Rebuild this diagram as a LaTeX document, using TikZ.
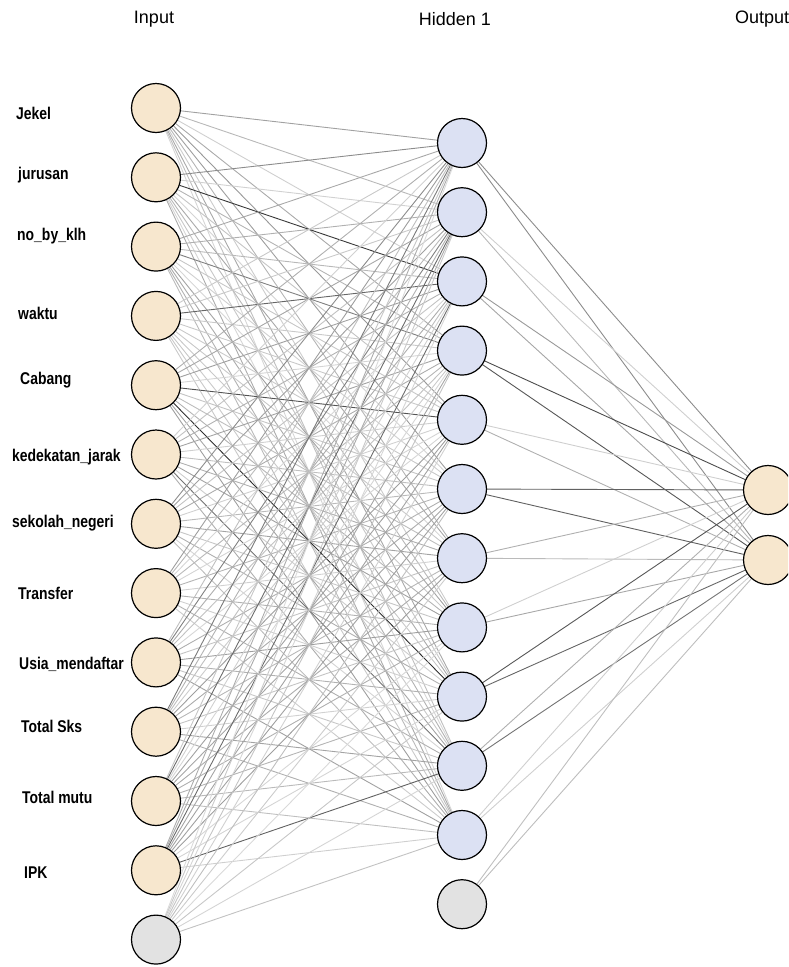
\documentclass[tikz,border=0pt]{standalone}
\usepackage{fontspec}
\setmainfont{Liberation Sans}
\newfontfamily\labfont[FakeStretch=0.82]{Liberation Sans}
\usetikzlibrary{backgrounds}
\definecolor{infill}{RGB}{247,231,206}
\definecolor{hidfill}{RGB}{220,225,243}
\definecolor{biasfill}{RGB}{226,226,226}
\newcommand\dkIH[3]{\expandafter\gdef\csname ih#1-#2\endcsname{#3}}
\newcommand\dkHO[3]{\expandafter\gdef\csname ho#1-#2\endcsname{#3}}
\dkIH{2}{3}{78}\dkIH{5}{5}{68}\dkIH{5}{9}{82}\dkIH{4}{3}{60}\dkIH{12}{10}{62}
\dkIH{11}{2}{58}\dkIH{12}{3}{58}\dkIH{10}{1}{52}\dkIH{2}{1}{45}\dkIH{1}{5}{40}
\dkIH{3}{4}{50}\dkIH{6}{10}{55}\dkIH{9}{2}{50}\dkIH{7}{1}{45}
\dkHO{4}{1}{70}\dkHO{4}{2}{66}\dkHO{6}{1}{62}\dkHO{6}{2}{62}\dkHO{9}{1}{66}
\dkHO{9}{2}{60}\dkHO{10}{2}{55}\dkHO{1}{1}{45}\dkHO{1}{2}{45}\dkHO{3}{1}{40}
\begin{document}
\begin{tikzpicture}[x=1pt,y=-1pt,
  neuron/.style={circle,draw=black,line width=1.2pt,minimum size=49pt,inner sep=0pt},
  inneuron/.style={neuron,fill=infill},
  hidneuron/.style={neuron,fill=hidfill},
  biasneuron/.style={neuron,fill=biasfill},
  lab/.style={anchor=west,font=\labfont\bfseries\fontsize{17}{17}\selectfont,inner sep=0pt},
  ttl/.style={font=\fontsize{18}{18}\selectfont,inner sep=0pt},
  wire/.style={line width=0.9pt}]
\useasboundingbox (0,0) rectangle (788,967);
\clip (0,0) rectangle (788,967);
% titles
\node[ttl] (tin) at (154,19) {Input};
\node[ttl] (thid) at (455,19) {Hidden 1};
\node[ttl,anchor=west] (tout) at (735,19) {Output};
% input neurons
\foreach \k in {1,...,12}{
  \node[inneuron] (i\k) at (156,{108+69.3*(\k-1)}) {};
}
\node[biasneuron] (i13) at (156,{108+69.3*12}) {};
% hidden neurons
\foreach \k in {1,...,11}{
  \node[hidneuron] (h\k) at (462,{143+69.2*(\k-1)}) {};
}
\node[biasneuron] (h12) at (462,{143+69.2*11}) {};
% output neurons
\node[inneuron] (o1) at (768,490) {};
\node[inneuron] (o2) at (768,560) {};
% labels
\node[lab] (l1) at (16,113) {Jekel};
\node[lab] (l2) at (18,175) {jurusan};
\node[lab] (l3) at (17,236) {no\_by\_klh};
\node[lab] (l4) at (18,313) {waktu};
\node[lab] (l5) at (20,380) {Cabang};
\node[lab] (l6) at (12,457) {kedekatan\_jarak};
\node[lab] (l7) at (12,523) {sekolah\_negeri};
\node[lab] (l8) at (18,593) {Transfer};
\node[lab] (l9) at (19,664) {Usia\_mendaftar};
\node[lab] (l10) at (21,726) {Total Sks};
\node[lab] (l11) at (22,797) {Total mutu};
\node[lab] (l12) at (24,873) {IPK};
% connectors
\begin{pgfonlayer}{background}
\foreach \i in {1,...,13}{
  \foreach \j in {1,...,11}{
    \ifnum\i=13
      \pgfmathtruncatemacro\lvl{14+mod(\i*5+\j*7,12)}
    \else
      \pgfmathtruncatemacro\lvl{16+mod(\i*7+\j*11+\i*\j*3,23)}
    \fi
    \ifcsname ih\i-\j\endcsname \edef\lvl{\csname ih\i-\j\endcsname}\fi
    \draw[wire,draw=black!\lvl] (i\i) -- (h\j);
  }
}
\foreach \j in {1,...,12}{
  \foreach \o in {1,2}{
    \pgfmathtruncatemacro\lvl{18+mod(\j*5+\o*7+\j*\o,18)}
    \ifcsname ho\j-\o\endcsname \edef\lvl{\csname ho\j-\o\endcsname}\fi
    \draw[wire,draw=black!\lvl] (h\j) -- (o\o);
  }
}
\end{pgfonlayer}
\end{tikzpicture}
\end{document}
